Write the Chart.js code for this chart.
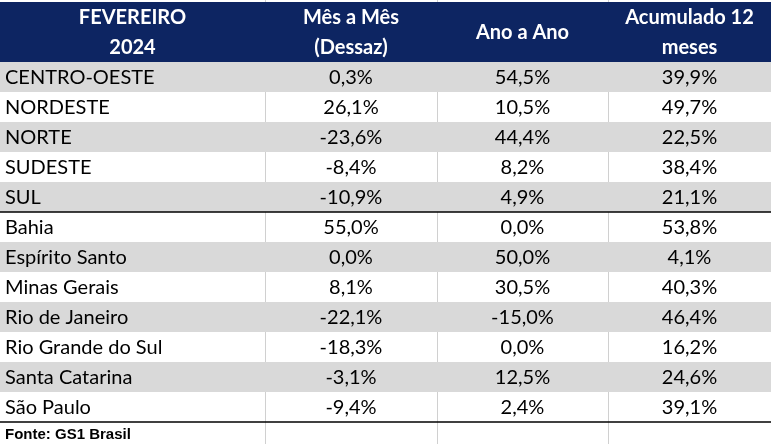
<!DOCTYPE html>
<html>
<head>
<meta charset="utf-8">
<script src="https://cdn.jsdelivr.net/npm/chart.js@4"></script>
<style>
  html, body { margin: 0; padding: 0; background: #fff; }
  #wrap { width: 771px; height: 444px; position: relative; }
</style>
</head>
<body>
<div id="wrap"><canvas id="tabela"></canvas></div>
<script>
// dados da tabela
const regioes = ['CENTRO-OESTE', 'NORDESTE', 'NORTE', 'SUDESTE', 'SUL',
    'Bahia', 'Espírito Santo', 'Minas Gerais', 'Rio de Janeiro',
    'Rio Grande do Sul', 'Santa Catarina', 'São Paulo'];
const mesAMes = [0.3, 26.1, -23.6, -8.4, -10.9, 55.0, 0.0, 8.1, -22.1, -18.3, -3.1, -9.4];
const anoAAno = [54.5, 10.5, 44.4, 8.2, 4.9, 0.0, 50.0, 30.5, -15.0, 0.0, 12.5, 2.4];
const acumulado12 = [39.9, 49.7, 22.5, 38.4, 21.1, 53.8, 4.1, 40.3, 46.4, 16.2, 24.6, 39.1];
const cabecalhos = [['FEVEREIRO', '2024'], ['Mês a Mês', '(Dessaz)'], ['Ano a Ano'], ['Acumulado 12', 'meses']];
const fonte = 'Fonte: GS1 Brasil';

// layout (unidades das escalas)
const colunas = [0, 265, 437, 608, 771];
const linhasSeparadas = [5, 12];   // linhas pretas depois de SUL e São Paulo
const AZUL = '#0d2562';
const CINZA = '#d9d9d9';

const fmt = v => v.toFixed(1).replace('.', ',') + '%';
const xMax = colunas[colunas.length - 1];

const faixas = regioes.map((r, i) => i % 2 === 0 ? { x: [0, xMax], y: i + 0.5 } : null).filter(Boolean);
const topo = [{ x: [0, xMax], y: -1.5 }, { x: [0, xMax], y: -0.5 }];

const tabelaPlugin = {
    id: 'tabela',
    beforeDatasetsDraw(chart) {
        const { ctx, scales: { x, y } } = chart;
        ctx.save();
        ctx.strokeStyle = '#d0d0d0';
        ctx.lineWidth = 1;
        colunas.slice(1, -1).forEach(c => {
            const px = Math.round(x.getPixelForValue(c)) + 0.5;
            ctx.beginPath();
            ctx.moveTo(px, 0);
            ctx.lineTo(px, chart.height);
            ctx.stroke();
        });
        ctx.restore();
    },
    afterDatasetsDraw(chart) {
        const { ctx, scales: { x, y } } = chart;
        ctx.save();
        // linhas pretas
        ctx.strokeStyle = '#000';
        ctx.lineWidth = 1.5;
        linhasSeparadas.forEach(l => {
            const py = y.getPixelForValue(l);
            ctx.beginPath();
            ctx.moveTo(0, py);
            ctx.lineTo(chart.width, py);
            ctx.stroke();
        });

        const centro = c => (x.getPixelForValue(colunas[c]) + x.getPixelForValue(colunas[c + 1])) / 2;

        // cabeçalho
        ctx.fillStyle = '#fff';
        ctx.font = 'bold 20px Lato';
        ctx.textAlign = 'center';
        ctx.textBaseline = 'middle';
        cabecalhos.forEach((linhas, c) => {
            const yc = linhas.length === 1 ? [-1] : [-1.5, -0.5];
            linhas.forEach((t, k) => ctx.fillText(t, centro(c), y.getPixelForValue(yc[k]) + 1));
        });

        // corpo
        ctx.fillStyle = '#000';
        ctx.font = '20px Lato';
        regioes.forEach((r, i) => {
            const py = y.getPixelForValue(i + 0.5) + 1;
            ctx.textAlign = 'left';
            ctx.fillText(r, x.getPixelForValue(colunas[0]) + 5, py);
            ctx.textAlign = 'center';
            ctx.fillText(fmt(mesAMes[i]), centro(1), py);
            ctx.fillText(fmt(anoAAno[i]), centro(2), py);
            ctx.fillText(fmt(acumulado12[i]), centro(3), py);
        });

        // fonte
        ctx.font = 'bold 15px "Liberation Sans"';
        ctx.textAlign = 'left';
        ctx.fillText(fonte, x.getPixelForValue(colunas[0]) + 5, y.getPixelForValue(12.42));
        ctx.restore();
    }
};

new Chart(document.getElementById('tabela'), {
    type: 'bar',
    data: {
        datasets: [
            { data: topo, backgroundColor: AZUL },
            { data: faixas, backgroundColor: CINZA }
        ]
    },
    options: {
        indexAxis: 'y',
        responsive: true,
        maintainAspectRatio: false,
        animation: false,
        events: [],
        layout: { padding: 0 },
        datasets: {
            bar: {
                grouped: false,
                barPercentage: 1,
                categoryPercentage: 1,
                borderWidth: 0,
                inflateAmount: 0
            }
        },
        plugins: { legend: { display: false }, tooltip: { enabled: false } },
        scales: {
            x: { type: 'linear', min: 0, max: xMax, display: false, offset: false },
            y: { type: 'linear', reverse: true, min: -2.067, max: 12.733, display: false, offset: false, ticks: { stepSize: 5 } }
        }
    },
    plugins: [tabelaPlugin]
});
</script>
</body>
</html>
